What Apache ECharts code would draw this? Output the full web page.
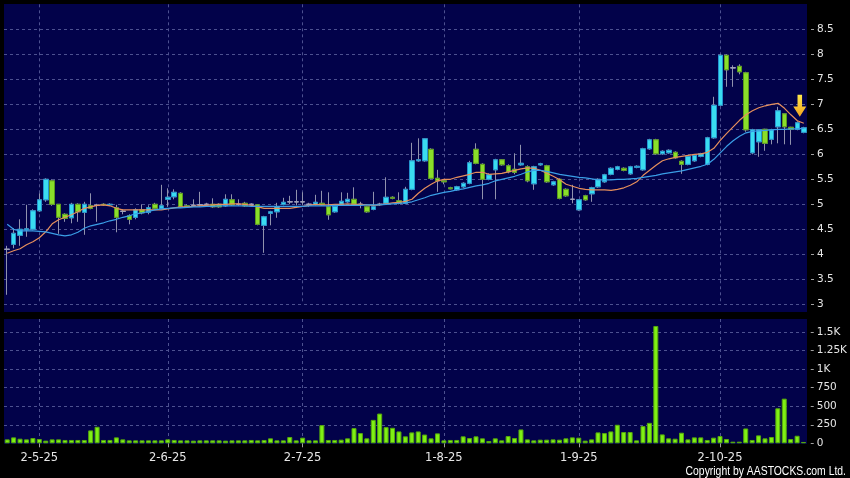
<!DOCTYPE html>
<html>
<head>
<meta charset="utf-8">
<script src="https://cdn.jsdelivr.net/npm/echarts@6/dist/echarts.min.js"></script>
<style>
html,body{margin:0;padding:0;background:#000;}
#chart{width:850px;height:478px;}
</style>
</head>
<body>
<div id="chart"></div>
<script>
// ---- categories (HK trading days) ----
const dates = [
'2025-04-24','2025-04-25','2025-04-28','2025-04-29','2025-04-30',
'2025-05-02','2025-05-06','2025-05-07','2025-05-08','2025-05-09','2025-05-12','2025-05-13','2025-05-14','2025-05-15','2025-05-16',
'2025-05-19','2025-05-20','2025-05-21','2025-05-22','2025-05-23','2025-05-26','2025-05-27','2025-05-28','2025-05-29','2025-05-30',
'2025-06-02','2025-06-03','2025-06-04','2025-06-05','2025-06-06','2025-06-09','2025-06-10','2025-06-11','2025-06-12','2025-06-13',
'2025-06-16','2025-06-17','2025-06-18','2025-06-19','2025-06-20','2025-06-23','2025-06-24','2025-06-25','2025-06-26','2025-06-27','2025-06-30',
'2025-07-02','2025-07-03','2025-07-04','2025-07-07','2025-07-08','2025-07-09','2025-07-10','2025-07-11','2025-07-14','2025-07-15',
'2025-07-16','2025-07-17','2025-07-18','2025-07-21','2025-07-22','2025-07-23','2025-07-24','2025-07-25','2025-07-28','2025-07-29','2025-07-30','2025-07-31',
'2025-08-01','2025-08-04','2025-08-05','2025-08-06','2025-08-07','2025-08-08','2025-08-11','2025-08-12','2025-08-13','2025-08-14','2025-08-15',
'2025-08-18','2025-08-19','2025-08-20','2025-08-21','2025-08-22','2025-08-25','2025-08-26','2025-08-27','2025-08-28','2025-08-29',
'2025-09-01','2025-09-02','2025-09-03','2025-09-04','2025-09-05','2025-09-08','2025-09-09','2025-09-10','2025-09-11','2025-09-12',
'2025-09-15','2025-09-16','2025-09-17','2025-09-18','2025-09-19','2025-09-22','2025-09-23','2025-09-24','2025-09-25','2025-09-26','2025-09-29','2025-09-30',
'2025-10-02','2025-10-03','2025-10-06','2025-10-08','2025-10-09','2025-10-10','2025-10-13','2025-10-14','2025-10-15','2025-10-16','2025-10-17','2025-10-20','2025-10-21','2025-10-22'
];

// ---- x tick labels ----
const monthStartDates = ['2025-05-02','2025-06-02','2025-07-02','2025-08-01','2025-09-01','2025-10-02'];
const monthLabels     = ['2-5-25','2-6-25','2-7-25','1-8-25','1-9-25','2-10-25'];

// ---- OHLC ----
const opens = [
4.10,4.20,4.38,4.49,4.50,
4.87,5.09,5.47,5.00,4.80,4.73,5.00,4.84,4.97,4.98,5.00,4.99,4.93,4.86,4.77,4.74,4.89,4.84,5.00,4.92,
5.10,5.15,5.22,4.97,4.98,4.99,5.00,5.00,5.00,4.97,5.09,5.00,5.02,5.00,4.99,4.58,4.82,4.85,5.00,5.05,5.05,
5.05,5.00,5.00,5.02,4.95,4.85,5.00,5.05,5.10,5.00,4.95,4.90,5.00,5.02,5.14,5.07,5.02,5.30,5.87,5.87,6.10,5.52,
5.47,5.33,5.29,5.35,5.42,6.10,5.80,5.50,5.69,5.89,5.77,5.70,5.79,5.75,5.41,5.79,5.77,5.39,5.50,5.30,5.10,
4.89,5.17,5.21,5.35,5.45,5.60,5.70,5.72,5.61,5.74,5.69,6.11,6.29,6.01,6.03,6.04,5.86,5.80,5.87,5.96,5.80,6.33,
6.98,7.98,7.73,7.76,7.63,6.03,6.25,6.50,6.30,6.55,6.81,6.54,6.50,6.44
];
const closes = [
4.10,4.42,4.50,4.51,4.87,
5.09,5.50,5.00,4.74,4.72,5.00,4.85,5.00,4.92,4.98,4.99,5.00,4.74,4.86,4.70,4.89,4.83,4.93,4.92,4.97,
5.14,5.24,4.95,4.95,4.98,4.99,5.00,4.95,4.95,5.10,4.99,5.00,4.97,5.00,4.60,4.75,4.85,4.95,5.04,5.05,5.05,
5.05,5.00,5.04,4.99,4.79,4.96,5.06,5.10,5.00,5.00,4.85,4.95,5.00,5.14,5.12,5.02,5.30,5.87,5.89,6.31,5.52,5.47,
5.45,5.31,5.35,5.42,5.83,5.82,5.50,5.59,5.89,5.79,5.65,5.64,5.82,5.47,5.75,5.81,5.45,5.45,5.12,5.17,5.10,
5.09,5.09,5.33,5.50,5.59,5.72,5.75,5.68,5.75,5.76,6.11,6.29,6.01,6.06,6.08,5.93,5.80,5.96,5.98,6.01,6.33,6.98,
7.98,7.69,7.73,7.65,6.49,6.49,6.49,6.22,6.49,6.87,6.55,6.50,6.63,6.53
];
const lows = [
3.19,4.12,4.17,4.35,4.48,
4.85,5.05,4.97,4.41,4.65,4.62,4.65,4.39,4.90,4.65,4.97,4.97,4.44,4.80,4.60,4.70,4.80,4.80,4.90,4.90,
4.95,5.10,4.93,4.93,4.95,4.95,4.97,4.93,4.93,4.95,4.97,4.97,4.95,4.98,4.58,4.03,4.58,4.73,4.98,5.00,4.98,
4.99,4.95,4.98,4.97,4.69,4.83,4.98,5.03,4.97,4.92,4.83,4.88,4.97,5.00,5.10,5.00,5.00,5.28,5.85,5.85,5.50,5.25,
5.40,5.30,5.27,5.33,5.40,5.80,5.10,5.48,5.10,5.77,5.62,5.60,5.77,5.44,5.29,5.77,5.43,5.37,5.10,5.15,5.02,
4.87,5.07,5.05,5.33,5.43,5.58,5.68,5.66,5.59,5.72,5.67,6.09,5.99,5.99,6.01,5.91,5.61,5.78,5.85,5.94,5.78,6.31,
6.96,7.35,7.35,7.60,6.45,6.00,5.95,6.07,6.20,6.22,6.20,6.19,6.48,6.42
];
const highs = [
4.17,4.52,4.70,4.99,4.90,
5.22,5.52,5.50,5.00,4.82,5.03,5.02,5.05,5.22,5.01,5.02,5.02,4.99,4.90,4.80,4.92,5.00,4.98,5.03,5.39,
5.32,5.30,5.24,5.00,5.10,5.25,5.03,5.12,5.02,5.20,5.20,5.10,5.05,5.02,5.00,4.77,4.87,5.03,5.13,5.17,5.29,
5.24,5.03,5.19,5.27,5.24,4.98,5.24,5.23,5.34,5.05,4.97,5.25,5.03,5.54,5.16,5.24,5.35,6.23,6.32,6.32,6.12,5.69,
5.50,5.35,5.37,5.44,5.87,6.22,5.82,5.62,5.91,5.90,5.80,6.02,6.19,5.78,5.77,5.83,5.79,5.47,5.52,5.32,5.39,
5.10,5.19,5.35,5.52,5.61,5.74,5.77,5.74,5.77,5.78,6.13,6.31,6.31,6.08,6.10,6.06,5.88,5.98,6.00,6.03,6.35,7.15,
8.00,8.00,7.78,7.80,7.65,6.51,6.50,6.51,6.51,6.95,6.82,6.55,6.66,6.55
];

// ---- moving averages ----
const maShort = [
4.02,4.07,4.11,4.19,4.25, 4.33,4.45,4.61,4.69,4.74,4.79,4.85,4.92,4.95,4.98,
4.99,4.97,4.92,4.89,4.89,4.89,4.89,4.89,4.89,4.89,
4.91,4.93,4.95,4.95,4.96,4.97,4.98,4.99,5.00,5.00,5.01,5.01,5.00,4.98,4.95,4.92,4.92,4.92,4.92,4.92,4.94,
4.96,4.98,5.00,4.99,4.99,5.00,5.00,5.01,5.00,5.00,4.99,4.98,4.99,5.01,5.03,5.04,5.06,5.10,5.22,5.32,5.40,5.47,
5.50,5.50,5.54,5.57,5.60,5.64,5.64,5.60,5.61,5.62,5.65,5.68,5.71,5.73,5.72,5.68,5.62,5.56,5.49,5.40,5.36,
5.32,5.30,5.29,5.29,5.29,5.28,5.30,5.33,5.38,5.45,5.58,5.68,5.78,5.87,5.91,5.94,5.96,5.98,6.00,6.01,6.04,6.12,
6.28,6.42,6.55,6.68,6.79,6.87,6.93,6.97,7.00,7.02,6.92,6.79,6.67,6.62
];
const maLong = [
4.60,4.50,4.47,4.47,4.47, 4.46,4.45,4.42,4.39,4.37,4.39,4.44,4.52,4.57,4.60,
4.63,4.67,4.70,4.74,4.77,4.81,4.83,4.86,4.89,4.91,
4.92,4.93,4.93,4.94,4.95,4.95,4.96,4.96,4.97,4.97,4.97,4.97,4.97,4.96,4.96,4.96,4.96,4.96,4.96,4.96,4.96,
4.96,4.97,4.97,4.97,4.97,4.98,4.98,4.98,4.98,4.98,4.99,4.99,4.99,5.00,5.01,5.02,5.03,5.05,5.09,5.13,5.18,5.21,
5.24,5.26,5.29,5.31,5.34,5.37,5.39,5.42,5.47,5.50,5.53,5.56,5.60,5.65,5.68,5.68,5.66,5.63,5.60,5.58,5.56,
5.54,5.53,5.51,5.49,5.49,5.49,5.50,5.50,5.51,5.52,5.54,5.56,5.58,5.61,5.63,5.65,5.67,5.70,5.73,5.76,5.80,5.90,
6.03,6.16,6.27,6.36,6.43,6.46,6.47,6.48,6.49,6.50,6.50,6.51,6.51,6.52
];

// ---- volume ----
const volumes = [
53,80,62,53,71, 58,36,53,53,45,45,45,45,174,223,
45,45,80,53,40,40,40,40,40,40,
53,45,40,40,36,40,40,40,40,36,40,40,40,45,40,45,67,40,40,85,40,
76,40,40,245,45,45,49,67,205,138,67,316,401,218,209,160,94,147,160,118,67,134,
40,45,45,94,71,94,67,31,67,40,98,71,187,53,40,49,49,53,49,67,80,
76,36,53,147,138,160,250,152,152,40,232,276,1582,120,67,62,143,53,80,80,45,76,
98,58,22,22,200,45,107,67,85,472,602,58,102,18
];

// ---- axis settings / annotation ----
const priceMin = 3, priceMax = 9, priceStep = 0.5;
const volMin = 0, volMax = 1676, volStep = 250;
const arrowDate = '2025-10-22', arrowPrice = 6.75;

const NAVY = '#02024a';
const GRID = '#4d5190';
const TXT = '#e6e6e6';

const bodyData = dates.map((d, i) => [opens[i], closes[i], Math.min(opens[i], closes[i]), Math.max(opens[i], closes[i])]);
const wickData = dates.map((d, i) => [opens[i], closes[i], lows[i], highs[i]]);

const isMonthStart = (idx, val) => monthStartDates.indexOf(val) >= 0;
const volFmt = v => v === 0 ? '0' : (v >= 1000 ? (v / 1000) + 'K' : String(v));

const chart = echarts.init(document.getElementById('chart'), null, {renderer: 'canvas'});
chart.setOption({
  animation: false,
  backgroundColor: '#000',
  graphic: [
    {type: 'rect', z: -10, silent: true, shape: {x: 4, y: 4, width: 803, height: 308}, style: {fill: NAVY}},
    {type: 'rect', z: -10, silent: true, shape: {x: 4, y: 319, width: 803, height: 125}, style: {fill: NAVY}},
    {type: 'text', z: 10, silent: true, x: 846, y: 471.5, scaleX: 0.77,
      style: {text: 'Copyright by AASTOCKS.com Ltd.', fill: '#ffffff', align: 'right', verticalAlign: 'middle',
        font: '13.5px "Liberation Sans Narrow", "Liberation Sans", sans-serif'}}
  ],
  grid: [
    {left: 4, right: 43, top: 4.3, height: 300},
    {left: 4, right: 43, top: 319, bottom: 34.7}
  ],
  xAxis: [
    {type: 'category', gridIndex: 0, data: dates, boundaryGap: true,
      axisLine: {show: false}, axisTick: {show: false}, axisLabel: {show: false},
      splitLine: {show: true, interval: isMonthStart, alignWithLabel: true, lineStyle: {color: GRID, type: [3, 3], width: 1}}},
    {type: 'category', gridIndex: 1, data: dates, boundaryGap: true, offset: 4,
      axisLine: {show: false},
      axisTick: {show: true, interval: isMonthStart, alignWithLabel: true, length: 4, lineStyle: {color: '#a0a0a0'}},
      axisLabel: {show: true, interval: isMonthStart, margin: 5, color: TXT, fontSize: 11.5, fontFamily: 'DejaVu Sans',
        formatter: v => { const k = monthStartDates.indexOf(v); return k >= 0 ? monthLabels[k] : ''; }},
      splitLine: {show: true, interval: isMonthStart, alignWithLabel: true, lineStyle: {color: GRID, type: [3, 3], width: 1}}}
  ],
  yAxis: [
    {type: 'value', gridIndex: 0, position: 'right', min: priceMin, max: priceMax, interval: priceStep, offset: 4,
      axisLine: {show: false}, axisTick: {show: true, length: 3, lineStyle: {color: '#a0a0a0'}},
      axisLabel: {color: TXT, fontSize: 10.5, fontFamily: 'DejaVu Sans', margin: 6, showMaxLabel: false},
      splitLine: {show: true, showMaxLine: false, lineStyle: {color: GRID, type: [3, 3], width: 1}}},
    {type: 'value', gridIndex: 1, position: 'right', min: volMin, max: volMax, interval: volStep, offset: 4,
      axisLine: {show: false}, axisTick: {show: true, length: 3, lineStyle: {color: '#a0a0a0'}},
      axisLabel: {color: TXT, fontSize: 10.5, fontFamily: 'DejaVu Sans', margin: 6, showMaxLabel: false, formatter: volFmt},
      splitLine: {show: true, showMaxLine: false, showMinLine: false, lineStyle: {color: GRID, type: [3, 3], width: 1}}}
  ],
  series: [
    {name: 'wick', type: 'candlestick', xAxisIndex: 0, yAxisIndex: 0, data: wickData, barWidth: 5, silent: true,
      itemStyle: {color: 'rgba(0,0,0,0)', color0: 'rgba(0,0,0,0)', borderColor: '#9092ad', borderColor0: '#9092ad', borderColorDoji: '#9092ad', borderWidth: 1}},
    {name: 'body', type: 'candlestick', xAxisIndex: 0, yAxisIndex: 0, data: bodyData, barWidth: 5, silent: true,
      itemStyle: {color: '#3adcf0', color0: '#8ade2a', borderColor: '#2394cf', borderColor0: '#5a9a1c', borderColorDoji: '#a0a2bc', borderWidth: 1},
      markPoint: {silent: true, symbol: 'path://M13,0 L27,0 L27,35 L40,35 L20,66 L0,35 L13,35 Z', symbolSize: [13, 22],
        symbolOffset: [-4, -11], label: {show: false},
        itemStyle: {color: {type: 'linear', x: 0, y: 0, x2: 0, y2: 1, colorStops: [{offset: 0, color: '#ffe94a'}, {offset: 1, color: '#f2a21e'}]}},
        data: [{coord: [arrowDate, arrowPrice]}]}},
    {name: 'MA short', type: 'line', xAxisIndex: 0, yAxisIndex: 0, data: maShort, showSymbol: false, silent: true,
      lineStyle: {color: '#e68f5c', width: 1.2}},
    {name: 'MA long', type: 'line', xAxisIndex: 0, yAxisIndex: 0, data: maLong, showSymbol: false, silent: true,
      lineStyle: {color: '#3a9ee6', width: 1.2}},
    {name: 'Volume', type: 'bar', xAxisIndex: 1, yAxisIndex: 1, data: volumes, barWidth: 5, silent: true,
      itemStyle: {color: '#7ff014', borderColor: '#55a80c', borderWidth: 1}}
  ]
});
</script>
</body>
</html>
